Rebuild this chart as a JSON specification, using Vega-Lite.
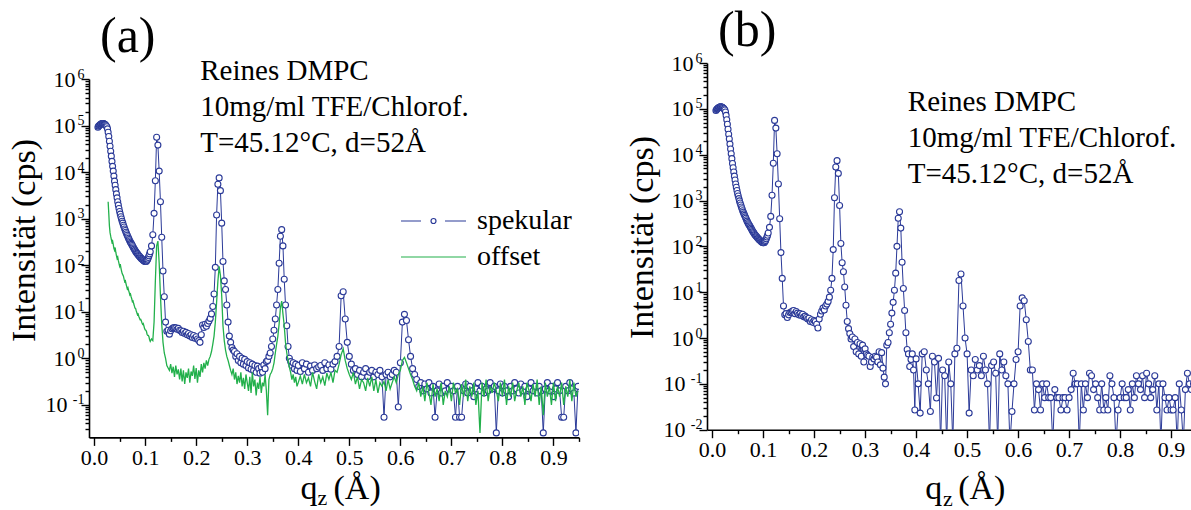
{
  "$schema": "https://vega.github.io/schema/vega-lite/v6.json",
  "padding": {"left": 7, "top": 6, "right": 0, "bottom": 0},
  "background": "white",
  "spacing": 45,
  "config": {
    "view": {"stroke": null},
    "font": "Liberation Serif",
    "axis": {"grid": false, "domainColor": "#000", "tickColor": "#000", "labelColor": "#000", "titleColor": "#000", "labelFont": "Liberation Serif", "titleFont": "Liberation Serif", "titleFontWeight": "normal", "domainWidth": 1.6, "tickWidth": 1.4, "labelFlush": false, "labelOverlap": false, "labelBound": false},
    "title": {"font": "Liberation Serif", "fontWeight": "normal", "fontSize": 50, "color": "#000", "anchor": "start", "frame": "group"}
  },
  "datasets": {
    "d": [
      {"q":0.0075,"a":92000,"b":92000},
      {"q":0.00875,"a":97000,"b":97000},
      {"q":0.01,"a":100000,"b":100000},
      {"q":0.01125,"a":103000,"b":103000},
      {"q":0.0125,"a":106000,"b":106000},
      {"q":0.01375,"a":108000,"b":108000},
      {"q":0.015,"a":110000,"b":110000},
      {"q":0.01625,"a":111000,"b":111000},
      {"q":0.0175,"a":111000,"b":111000},
      {"q":0.01875,"a":110000,"b":110000},
      {"q":0.02,"a":108000,"b":108000},
      {"q":0.02125,"a":106000,"b":106000},
      {"q":0.0225,"a":103000,"b":103000},
      {"q":0.02375,"a":99000,"b":99000},
      {"q":0.025,"a":94000,"b":94000},
      {"q":0.02625,"a":85000,"b":85000},
      {"q":0.0275,"a":72000,"o":2300,"b":72000},
      {"q":0.02875,"a":58000,"o":1300,"b":58000},
      {"q":0.03,"a":46000,"o":700,"b":46000},
      {"q":0.03125,"a":36000,"o":500,"b":36000},
      {"q":0.0325,"a":28000,"o":420,"b":28000},
      {"q":0.03375,"a":22000,"o":360,"b":22000},
      {"q":0.035,"a":17000,"o":310,"b":17000},
      {"q":0.03625,"a":13300,"o":330,"b":13300},
      {"q":0.0375,"a":10500,"o":280,"b":10500},
      {"q":0.03875,"a":8200,"o":230,"b":8200},
      {"q":0.04,"a":6400,"o":210,"b":6400},
      {"q":0.04125,"a":5200,"o":240,"b":5200},
      {"q":0.0425,"a":4200,"o":190,"b":4200},
      {"q":0.04375,"a":3400,"o":160,"b":3400},
      {"q":0.045,"a":2800,"o":140,"b":2800},
      {"q":0.04625,"a":2300,"o":150,"b":2300},
      {"q":0.0475,"a":1950,"o":125,"b":1950},
      {"q":0.04875,"a":1650,"o":110,"b":1650},
      {"q":0.05,"a":1420,"o":95,"b":1420},
      {"q":0.05125,"a":1250,"o":105,"b":1250},
      {"q":0.0525,"a":1100,"o":88,"b":1100},
      {"q":0.05375,"a":980,"o":75,"b":980},
      {"q":0.055,"a":880,"o":66,"b":880},
      {"q":0.05625,"a":800,"o":62,"b":800},
      {"q":0.0575,"a":720,"o":58,"b":720},
      {"q":0.05875,"a":660,"o":50,"b":660},
      {"q":0.06,"a":600,"o":44,"b":600},
      {"q":0.06125,"a":555,"o":46,"b":555},
      {"q":0.0625,"a":510,"o":40,"b":510},
      {"q":0.06375,"a":475,"o":35,"b":475},
      {"q":0.065,"a":440,"o":31,"b":440},
      {"q":0.06625,"a":410,"o":33,"b":410},
      {"q":0.0675,"a":380,"o":29,"b":380},
      {"q":0.06875,"a":355,"o":26,"b":355},
      {"q":0.07,"a":330,"o":23,"b":330},
      {"q":0.07125,"a":312,"o":24,"b":312},
      {"q":0.0725,"a":295,"o":21,"b":295},
      {"q":0.07375,"a":280,"o":19,"b":280},
      {"q":0.075,"a":265,"o":16.5,"b":265},
      {"q":0.07625,"a":250,"o":17,"b":250},
      {"q":0.0775,"a":235,"o":15,"b":235},
      {"q":0.07875,"a":222,"o":13.5,"b":222},
      {"q":0.08,"a":210,"o":12,"b":210},
      {"q":0.08125,"a":200,"o":11.8,"b":200},
      {"q":0.0825,"a":190,"o":10.5,"b":190},
      {"q":0.08375,"a":182,"o":9.5,"b":182},
      {"q":0.085,"a":175,"o":8.6,"b":175},
      {"q":0.08625,"a":168,"o":8.9,"b":168},
      {"q":0.0875,"a":162,"o":8,"b":162},
      {"q":0.08875,"a":156,"o":7.3,"b":156},
      {"q":0.09,"a":150,"o":6.8,"b":150},
      {"q":0.09125,"a":145,"o":6.9,"b":145},
      {"q":0.0925,"a":140,"o":6.4,"b":140},
      {"q":0.09375,"a":136,"o":5.8,"b":136},
      {"q":0.095,"a":132,"o":5.4,"b":132},
      {"q":0.09625,"a":128,"o":5.6,"b":128},
      {"q":0.0975,"a":125,"o":5,"b":125},
      {"q":0.09875,"a":122,"o":4.4,"b":122},
      {"q":0.1,"a":120,"o":4.1,"b":120},
      {"q":0.10125,"a":120,"o":4,"b":120},
      {"q":0.1025,"a":122,"o":3.8,"b":122},
      {"q":0.10375,"a":127,"o":3.3,"b":127},
      {"q":0.105,"a":135,"o":3.1,"b":135},
      {"q":0.10625,"a":146,"o":3.1,"b":146},
      {"q":0.1075,"a":160,"o":2.9,"b":160},
      {"q":0.10875,"a":175,"o":2.5,"b":175},
      {"q":0.11,"a":195,"o":2.3,"b":195},
      {"q":0.1125,"a":260,"o":2.6,"b":260},
      {"q":0.115,"a":450,"o":2.4,"b":450},
      {"q":0.1175,"a":1300,"o":6,"b":1300},
      {"q":0.12,"a":6500,"o":45,"b":6500},
      {"q":0.1225,"a":56000,"o":260,"b":56000},
      {"q":0.125,"a":38000,"o":330,"b":38000},
      {"q":0.1275,"a":10500,"o":110,"b":10500},
      {"q":0.13,"a":2300,"o":22,"b":2300},
      {"q":0.1325,"a":400,"o":5.5,"b":400},
      {"q":0.135,"a":75,"o":2.2,"b":73},
      {"q":0.1375,"a":21,"o":1.3,"b":20},
      {"q":0.14,"a":6,"o":1,"b":5},
      {"q":0.1425,"a":3.8,"o":0.7,"b":3.2},
      {"q":0.145,"a":4.0,"o":0.62,"b":3.4},
      {"q":0.1475,"a":3.3,"o":0.55,"b":2.8},
      {"q":0.15,"a":3.9,"o":0.75,"b":3.2},
      {"q":0.1525,"a":4.3,"o":0.48,"b":3.6},
      {"q":0.155,"a":4.5,"o":0.66,"b":3.7},
      {"q":0.1575,"a":4.6,"o":0.4,"b":3.9},
      {"q":0.16,"a":4.5,"o":0.7,"b":4.0},
      {"q":0.1625,"a":4.2,"o":0.45,"b":3.4},
      {"q":0.165,"a":4.4,"o":0.58,"b":3.8},
      {"q":0.1675,"a":4.0,"o":0.35,"b":3.5},
      {"q":0.17,"a":3.9,"o":0.6,"b":3.2},
      {"q":0.1725,"a":3.6,"o":0.32,"b":3.4},
      {"q":0.175,"a":3.8,"o":0.55,"b":3.1},
      {"q":0.1775,"a":3.4,"o":0.28,"b":3.3},
      {"q":0.18,"a":3.6,"o":0.5,"b":2.9},
      {"q":0.1825,"a":3.2,"o":0.38,"b":3.0},
      {"q":0.185,"a":3.4,"o":0.6,"b":2.8},
      {"q":0.1875,"a":3.0,"o":0.3,"b":2.6},
      {"q":0.19,"a":3.2,"o":0.52,"b":2.7},
      {"q":0.1925,"a":2.8,"o":0.42,"b":2.3},
      {"q":0.195,"a":3.1,"o":0.7,"b":2.5},
      {"q":0.1975,"a":2.7,"o":0.36,"b":2.2},
      {"q":0.2,"a":2.9,"o":0.62,"b":2.4},
      {"q":0.2025,"a":2.6,"o":0.3,"b":2.3},
      {"q":0.205,"a":2.4,"o":0.55,"b":2.0},
      {"q":0.2075,"a":2.2,"o":0.4,"b":1.65},
      {"q":0.21,"a":3.2,"o":0.75,"b":2.6},
      {"q":0.2125,"a":5.2,"o":0.5,"b":3.3},
      {"q":0.215,"a":4.6,"o":0.8,"b":3.9},
      {"q":0.2175,"a":5.4,"o":0.6,"b":4.5},
      {"q":0.22,"a":4.9,"o":0.9,"b":4.1},
      {"q":0.2225,"a":5.6,"o":0.7,"b":5.0},
      {"q":0.225,"a":6.3,"o":0.95,"b":5.5},
      {"q":0.2275,"a":7.2,"o":1.1,"b":6.3},
      {"q":0.23,"a":9.0,"o":1.4,"b":7.8},
      {"q":0.2325,"a":13,"o":2.0,"b":11},
      {"q":0.235,"a":24,"o":3.0,"b":20},
      {"q":0.2375,"a":90,"o":6,"b":85},
      {"q":0.24,"a":1200,"o":16,"b":1150},
      {"q":0.2425,"a":5500,"o":45,"b":5400},
      {"q":0.245,"a":7500,"o":95,"b":7400},
      {"q":0.2475,"a":4000,"o":60,"b":3900},
      {"q":0.25,"a":800,"o":22,"b":780},
      {"q":0.2525,"a":120,"o":5,"b":115},
      {"q":0.255,"a":46,"o":2.4,"b":44},
      {"q":0.2575,"a":30,"o":1.5,"b":28},
      {"q":0.26,"a":14,"o":1.1,"b":13},
      {"q":0.2625,"a":6,"o":0.9,"b":5.2},
      {"q":0.265,"a":3.0,"o":0.7,"b":2.3},
      {"q":0.2675,"a":2.2,"o":0.55,"b":1.6},
      {"q":0.27,"a":1.7,"o":0.45,"b":1.25},
      {"q":0.2725,"a":1.5,"o":0.6,"b":0.95},
      {"q":0.275,"a":1.4,"o":0.35,"b":1.05},
      {"q":0.2775,"a":1.1,"o":0.5,"b":0.65},
      {"q":0.28,"a":1.25,"o":0.28,"b":0.95},
      {"q":0.2825,"a":0.9,"o":0.42,"b":0.5},
      {"q":0.285,"a":1.1,"o":0.3,"b":0.8},
      {"q":0.2875,"a":0.8,"o":0.5,"b":0.45},
      {"q":0.29,"a":1.0,"o":0.25,"b":0.75},
      {"q":0.2925,"a":0.75,"o":0.38,"b":0.4},
      {"q":0.295,"a":0.95,"o":0.22,"b":0.7},
      {"q":0.2975,"a":0.7,"o":0.45,"b":0.3},
      {"q":0.3,"a":0.85,"o":0.3,"b":0.58},
      {"q":0.3025,"a":0.62,"o":0.2,"b":0.45},
      {"q":0.305,"a":0.8,"o":0.4,"b":0.42},
      {"q":0.3075,"a":0.58,"o":0.18,"b":0.4},
      {"q":0.31,"a":0.75,"o":0.5,"b":0.24},
      {"q":0.3125,"a":0.55,"o":0.25,"b":0.3},
      {"q":0.315,"a":0.7,"o":0.35,"b":0.38},
      {"q":0.3175,"a":0.5,"o":0.16,"b":0.35},
      {"q":0.32,"a":0.68,"o":0.3,"b":0.4},
      {"q":0.3225,"a":0.6,"o":0.22,"b":0.38},
      {"q":0.325,"a":0.48,"o":0.4,"b":0.3},
      {"q":0.3275,"a":0.65,"o":0.18,"b":0.5},
      {"q":0.33,"a":0.5,"o":0.3,"b":0.26},
      {"q":0.3325,"a":0.72,"o":0.25,"b":0.48},
      {"q":0.335,"a":0.6,"o":0.45,"b":0.22},
      {"q":0.3375,"a":0.85,"o":0.2,"b":0.14},
      {"q":0.34,"a":0.9,"o":0.06,"b":0.1},
      {"q":0.3425,"a":1.1,"o":0.35,"b":0.7},
      {"q":0.345,"a":1.3,"o":0.45,"b":0.8},
      {"q":0.3475,"a":1.8,"o":0.5,"b":1.3},
      {"q":0.35,"a":2.6,"o":0.6,"b":2.0},
      {"q":0.3525,"a":4,"o":0.8,"b":3.5},
      {"q":0.355,"a":7,"o":1.3,"b":6},
      {"q":0.3575,"a":14,"o":2.0,"b":11},
      {"q":0.36,"a":30,"o":3.0,"b":26},
      {"q":0.3625,"a":110,"o":5.5,"b":100},
      {"q":0.365,"a":420,"o":12,"b":410},
      {"q":0.3675,"a":580,"o":17,"b":570},
      {"q":0.37,"a":260,"o":9,"b":250},
      {"q":0.3725,"a":50,"o":5,"b":45},
      {"q":0.375,"a":14,"o":2.2,"b":12},
      {"q":0.3775,"a":5,"o":1.3,"b":4},
      {"q":0.38,"a":1.8,"o":0.9,"b":1.3},
      {"q":0.3825,"a":1.0,"o":0.65,"b":0.56},
      {"q":0.385,"a":0.85,"o":0.5,"b":0.45},
      {"q":0.3875,"a":0.7,"o":0.35,"b":0.24},
      {"q":0.39,"a":0.8,"o":0.45,"b":0.34},
      {"q":0.3925,"a":0.6,"o":0.3,"b":0.45},
      {"q":0.395,"a":0.75,"o":0.4,"b":0.2},
      {"q":0.3975,"a":0.55,"o":0.25,"b":0.027},
      {"q":0.4,"a":0.7,"o":0.3,"b":0.35},
      {"q":0.404,"a":0.52,"o":0.42,"b":0.1},
      {"q":0.408,"a":0.8,"o":0.28,"b":0.023},
      {"q":0.412,"a":0.6,"o":0.45,"b":0.45},
      {"q":0.416,"a":0.75,"o":0.3,"b":0.5},
      {"q":0.42,"a":0.5,"o":0.38,"b":0.2},
      {"q":0.424,"a":0.68,"o":0.25,"b":0.1},
      {"q":0.428,"a":0.55,"o":0.5,"b":0.025},
      {"q":0.432,"a":0.72,"o":0.32,"b":0.4},
      {"q":0.436,"a":0.6,"o":0.22,"b":0.3},
      {"q":0.44,"a":0.65,"o":0.45,"b":0.049},
      {"q":0.444,"a":0.7,"o":0.3,"b":0.36},
      {"q":0.448,"a":0.55,"o":0.4,"b":0.005},
      {"q":0.452,"a":0.8,"o":0.26,"b":0.2},
      {"q":0.456,"a":0.6,"o":0.48,"b":0.15},
      {"q":0.46,"a":0.72,"o":0.35,"b":0.005},
      {"q":0.464,"a":0.58,"o":0.5,"b":0.3},
      {"q":0.468,"a":0.75,"o":0.3,"b":0.1},
      {"q":0.472,"a":0.85,"o":0.55,"b":0.005},
      {"q":0.476,"a":1.1,"o":0.5,"b":0.45},
      {"q":0.48,"a":1.8,"o":0.75,"b":0.6},
      {"q":0.484,"a":22,"o":1.2,"b":18},
      {"q":0.488,"a":27,"o":1.6,"b":25},
      {"q":0.492,"a":7,"o":0.9,"b":5},
      {"q":0.496,"a":2.2,"o":0.6,"b":1.0},
      {"q":0.5,"a":1.1,"o":0.45,"b":0.45},
      {"q":0.504,"a":0.75,"o":0.35,"b":0.023},
      {"q":0.508,"a":0.55,"o":0.5,"b":0.2},
      {"q":0.512,"a":0.6,"o":0.28,"b":0.15},
      {"q":0.516,"a":0.45,"o":0.4,"b":0.34},
      {"q":0.52,"a":0.55,"o":0.22,"b":0.2},
      {"q":0.524,"a":0.4,"o":0.35,"b":0.25},
      {"q":0.528,"a":0.5,"o":0.3,"b":0.15},
      {"q":0.532,"a":0.6,"o":0.2,"b":0.4},
      {"q":0.536,"a":0.4,"o":0.38,"b":0.2},
      {"q":0.54,"a":0.5,"o":0.25,"b":0.1},
      {"q":0.544,"a":0.55,"o":0.4,"b":0.005},
      {"q":0.548,"a":0.4,"o":0.2,"b":0.25},
      {"q":0.552,"a":0.5,"o":0.35,"b":0.3},
      {"q":0.556,"a":0.45,"o":0.18,"b":0.17},
      {"q":0.56,"a":0.55,"o":0.3,"b":0.005},
      {"q":0.564,"a":0.4,"o":0.25,"b":0.45},
      {"q":0.568,"a":0.054,"o":0.32,"b":0.2},
      {"q":0.572,"a":0.45,"o":0.2,"b":0.3},
      {"q":0.576,"a":0.5,"o":0.35,"b":0.15},
      {"q":0.58,"a":0.4,"o":0.22,"b":0.1},
      {"q":0.584,"a":0.45,"o":0.3,"b":0.005},
      {"q":0.588,"a":0.55,"o":0.4,"b":0.025},
      {"q":0.592,"a":0.5,"o":0.3,"b":0.1},
      {"q":0.596,"a":0.09,"o":0.45,"b":0.34},
      {"q":0.6,"a":0.8,"o":0.55,"b":0.5},
      {"q":0.604,"a":6,"o":0.9,"b":5},
      {"q":0.608,"a":8.8,"o":1.05,"b":7.5},
      {"q":0.612,"a":6.5,"o":0.8,"b":6.5},
      {"q":0.616,"a":2.5,"o":0.6,"b":2.5},
      {"q":0.62,"a":1.1,"o":0.45,"b":0.84},
      {"q":0.624,"a":0.6,"o":0.35,"b":0.2},
      {"q":0.628,"a":0.45,"o":0.25,"b":0.2},
      {"q":0.632,"a":0.35,"o":0.2,"b":0.027},
      {"q":0.636,"a":0.25,"o":0.3,"b":0.1},
      {"q":0.64,"a":0.3,"o":0.15,"b":0.075},
      {"q":0.644,"a":0.2,"o":0.25,"b":0.027},
      {"q":0.648,"a":0.28,"o":0.12,"b":0.1},
      {"q":0.652,"a":0.22,"o":0.3,"b":0.05},
      {"q":0.656,"a":0.3,"o":0.18,"b":0.1},
      {"q":0.66,"a":0.18,"o":0.1,"b":0.05},
      {"q":0.664,"a":0.25,"o":0.28,"b":0.05},
      {"q":0.668,"a":0.054,"o":0.15,"b":0.005},
      {"q":0.672,"a":0.2,"o":0.22,"b":0.075},
      {"q":0.676,"a":0.28,"o":0.12,"b":0.05},
      {"q":0.68,"a":0.18,"o":0.3,"b":0.05},
      {"q":0.684,"a":0.25,"o":0.1,"b":0.027},
      {"q":0.688,"a":0.2,"o":0.2,"b":0.05},
      {"q":0.692,"a":0.3,"o":0.15,"b":0.05},
      {"q":0.696,"a":0.22,"o":0.25,"b":0.027},
      {"q":0.7,"a":0.25,"o":0.12,"b":0.05},
      {"q":0.704,"a":0.2,"o":0.3,"b":0.075},
      {"q":0.708,"a":0.054,"o":0.18,"b":0.17},
      {"q":0.712,"a":0.25,"o":0.22,"b":0.1},
      {"q":0.716,"a":0.054,"o":0.1,"b":0.1},
      {"q":0.72,"a":0.054,"o":0.28,"b":0.005},
      {"q":0.724,"a":0.2,"o":0.15,"b":0.1},
      {"q":0.728,"a":0.28,"o":0.35,"b":0.027},
      {"q":0.732,"a":0.18,"o":0.12,"b":0.1},
      {"q":0.736,"a":0.25,"o":0.25,"b":0.05},
      {"q":0.74,"a":0.2,"o":0.15,"b":0.17},
      {"q":0.744,"a":0.15,"o":0.3,"b":0.15},
      {"q":0.748,"a":0.22,"o":0.1,"b":0.075},
      {"q":0.752,"a":0.3,"o":0.2,"b":0.1},
      {"q":0.756,"a":0.2,"o":0.025,"b":0.05},
      {"q":0.76,"a":0.25,"o":0.3,"b":0.027},
      {"q":0.764,"a":0.18,"o":0.15,"b":0.1},
      {"q":0.768,"a":0.22,"o":0.35,"b":0.027},
      {"q":0.772,"a":0.2,"o":0.12,"b":0.05},
      {"q":0.776,"a":0.3,"o":0.25,"b":0.027},
      {"q":0.78,"a":0.22,"o":0.18,"b":0.15},
      {"q":0.784,"a":0.25,"o":0.3,"b":0.1},
      {"q":0.788,"a":0.025,"o":0.2,"b":0.05},
      {"q":0.792,"a":0.2,"o":0.12,"b":0.005},
      {"q":0.796,"a":0.28,"o":0.3,"b":0.027},
      {"q":0.8,"a":0.18,"o":0.15,"b":0.05},
      {"q":0.804,"a":0.25,"o":0.35,"b":0.1},
      {"q":0.808,"a":0.2,"o":0.1,"b":0.05},
      {"q":0.812,"a":0.15,"o":0.25,"b":0.05},
      {"q":0.816,"a":0.25,"o":0.15,"b":0.075},
      {"q":0.82,"a":0.2,"o":0.3,"b":0.027},
      {"q":0.824,"a":0.3,"o":0.12,"b":0.1},
      {"q":0.828,"a":0.22,"o":0.2,"b":0.05},
      {"q":0.832,"a":0.18,"o":0.3,"b":0.15},
      {"q":0.836,"a":0.28,"o":0.15,"b":0.1},
      {"q":0.84,"a":0.2,"o":0.25,"b":0.075},
      {"q":0.844,"a":0.25,"o":0.1,"b":0.15},
      {"q":0.848,"a":0.15,"o":0.3,"b":0.05},
      {"q":0.852,"a":0.22,"o":0.2,"b":0.17},
      {"q":0.856,"a":0.3,"o":0.12,"b":0.1},
      {"q":0.86,"a":0.2,"o":0.28,"b":0.05},
      {"q":0.864,"a":0.25,"o":0.15,"b":0.075},
      {"q":0.868,"a":0.18,"o":0.35,"b":0.15},
      {"q":0.872,"a":0.25,"o":0.1,"b":0.027},
      {"q":0.876,"a":0.2,"o":0.25,"b":0.1},
      {"q":0.88,"a":0.025,"o":0.06,"b":0.005},
      {"q":0.884,"a":0.22,"o":0.3,"b":0.1},
      {"q":0.888,"a":0.3,"o":0.15,"b":0.05},
      {"q":0.892,"a":0.2,"o":0.25,"b":0.027},
      {"q":0.896,"a":0.25,"o":0.1,"b":0.05},
      {"q":0.9,"a":0.15,"o":0.3,"b":0.027},
      {"q":0.904,"a":0.22,"o":0.12,"b":0.027},
      {"q":0.908,"a":0.3,"o":0.25,"b":0.05},
      {"q":0.912,"a":0.2,"o":0.15,"b":0.005},
      {"q":0.916,"a":0.054,"o":0.3,"b":0.1},
      {"q":0.92,"a":0.054,"o":0.1,"b":0.027},
      {"q":0.924,"a":0.25,"o":0.25,"b":0.005},
      {"q":0.928,"a":0.2,"o":0.15,"b":0.075},
      {"q":0.932,"a":0.3,"o":0.35,"b":0.17},
      {"q":0.936,"a":0.22,"o":0.12,"b":0.1},
      {"q":0.94,"a":0.18,"o":0.3,"b":0.075},
      {"q":0.944,"a":0.025,"o":0.15,"b":0.1},
      {"q":0.948,"a":0.25,"o":0.2,"b":0.15}
    ]
  },
  "hconcat": [
    {
      "width": 490,
      "height": 374.4,
      "title": {"text": "(a)", "dx": 11, "offset": -5},
      "data": {"name": "d"},
      "layer": [
        {
          "mark": {"type": "line", "strokeWidth": 1, "clip": true},
          "encoding": {
            "x": {"field": "q", "type": "quantitative", "scale": {"domain": [-0.01, 0.95], "nice": false, "zero": false},
              "axis": {"orient": "bottom", "values": [0.05,0.15,0.25,0.35,0.45,0.55,0.65,0.75,0.85,0.95], "labels": false, "tickSize": 4, "domain": false, "title": "z", "titleFontSize": 22, "titleX": 228, "titleY": 67, "titleAlign": "left", "titleBaseline": "alphabetic", "titleAngle": 0}},
            "y": {"field": "a", "type": "quantitative", "scale": {"type": "log", "domain": [0.02, 1000000], "range": [374.4, 16], "nice": false},
              "axis": {"orient": "left", "values": [0.03,0.04,0.05,0.06,0.07,0.08,0.09,0.2,0.3,0.4,0.5,0.6,0.7,0.8,0.9,2,3,4,5,6,7,8,9,20,30,40,50,60,70,80,90,200,300,400,500,600,700,800,900,2000,3000,4000,5000,6000,7000,8000,9000,20000,30000,40000,50000,60000,70000,80000,90000,200000,300000,400000,500000,600000,700000,800000,900000], "labels": false, "tickSize": 4, "domain": false, "title": null}},
            "color": {"datum": "spekular", "scale": {"domain": ["spekular", "offset"], "range": ["#2b3a98", "#22b04b"]},
              "legend": {"orient": "none", "legendX": 356, "legendY": 144, "title": null, "labelFont": "Liberation Serif", "labelFontSize": 28, "labelColor": "#000", "labelOffset": 4, "symbolSize": 400, "symbolStrokeWidth": 1.2, "rowPadding": 8,
                "encode": {"symbols": {"update": {"shape": {"signal": "datum.value === 'spekular' ? 'M-5.8,0H-3.8M-1.4,0H0.7M-2.3,0A0.25,0.25,0,1,1,-2.8,0A0.25,0.25,0,1,1,-2.3,0' : 'M-5.8,0H0.7'"}, "fill": {"value": "transparent"}}}}}}
          }
        },
        {
          "mark": {"type": "point", "shape": "circle", "size": 36, "filled": false, "fill": "white", "strokeWidth": 1.1, "opacity": 1, "clip": true},
          "encoding": {
            "x": {"field": "q", "type": "quantitative",
              "axis": {"orient": "bottom", "values": [], "ticks": false, "labels": false, "domain": false, "title": "(Å)", "titleFontSize": 34, "titleX": 244, "titleY": 61, "titleAlign": "left", "titleBaseline": "alphabetic", "titleAngle": 0}},
            "y": {"field": "a", "type": "quantitative",
              "axis": {"orient": "left", "values": [0.1,1,10,100,1000,10000,100000,1000000], "labelExpr": "'' + round(log(datum.value) / LN10)", "labelFontSize": 14, "labelPadding": 5, "labelOffset": -5, "ticks": false, "tickSize": 0, "domain": false, "title": null}},
            "color": {"datum": "spekular"}
          }
        },
        {
          "transform": [{"filter": "isValid(datum.o)"}],
          "mark": {"type": "line", "strokeWidth": 1.3, "clip": true},
          "encoding": {
            "x": {"field": "q", "type": "quantitative",
              "axis": {"orient": "bottom", "values": [0,0.1,0.2,0.3,0.4,0.5,0.6,0.7,0.8,0.9], "format": ".1f", "labelFontSize": 22, "labelPadding": 2, "tickSize": 8, "title": "q", "titleFontSize": 34, "titleX": 211, "titleY": 61, "titleAlign": "left", "titleBaseline": "alphabetic", "titleAngle": 0}},
            "y": {"field": "o", "type": "quantitative",
              "axis": {"orient": "left", "values": [0.1,1,10,100,1000,10000,100000,1000000], "labelExpr": "'10'", "labelFontSize": 22, "labelPadding": {"condition": {"test": "datum.value < 1", "value": 14}, "value": 6}, "labelBaseline": "middle", "tickSize": 8, "title": "Intensität (cps)", "titleFontSize": 34, "titleX": -55, "titleY": 177, "titleAlign": "center", "titleBaseline": "alphabetic", "titleAngle": -90}},
            "color": {"datum": "offset"}
          }
        },
        {
          "data": {"values": [{}]},
          "mark": {"type": "text", "align": "left", "baseline": "alphabetic", "fontSize": 29, "lineHeight": 36, "font": "Liberation Serif", "color": "#000"},
          "encoding": {
            "x": {"datum": 0.208, "type": "quantitative", "axis": null},
            "y": {"datum": 970000, "type": "quantitative", "axis": null},
            "text": {"value": ["Reines DMPC", "10mg/ml TFE/Chlorof.", "T=45.12°C, d=52Å"]}
          }
        }
      ],
      "resolve": {"axis": {"x": "independent", "y": "independent"}}
    },
    {
      "width": 489.6,
      "height": 366.7,
      "title": {"text": "(b)", "dx": 11, "offset": -5},
      "data": {"name": "d"},
      "layer": [
        {
          "mark": {"type": "line", "strokeWidth": 1, "clip": true, "color": "#2b3a98"},
          "encoding": {
            "x": {"field": "q", "type": "quantitative", "scale": {"domain": [-0.01, 0.95], "nice": false, "zero": false},
              "axis": {"orient": "bottom", "values": [0,0.1,0.2,0.3,0.4,0.5,0.6,0.7,0.8,0.9], "format": ".1f", "labelFontSize": 22, "labelPadding": 2, "tickSize": 8, "title": "q", "titleFontSize": 34, "titleX": 217.7, "titleY": 68.5, "titleAlign": "left", "titleBaseline": "alphabetic", "titleAngle": 0}},
            "y": {"field": "b", "type": "quantitative", "scale": {"type": "log", "domain": [0.01, 1000000], "nice": false},
              "axis": {"orient": "left", "values": [0.01,0.1,1,10,100,1000,10000,100000,1000000], "labelExpr": "'10'", "labelFontSize": 22, "labelPadding": {"condition": {"test": "datum.value < 1", "value": 14}, "value": 6}, "labelBaseline": "middle", "tickSize": 8, "title": "Intensität (cps)", "titleFontSize": 34, "titleX": -54.3, "titleY": 174, "titleAlign": "center", "titleBaseline": "alphabetic", "titleAngle": -90}}
          }
        },
        {
          "mark": {"type": "point", "shape": "circle", "size": 36, "filled": false, "fill": "white", "stroke": "#2b3a98", "strokeWidth": 1.1, "opacity": 1, "clip": true},
          "encoding": {
            "x": {"field": "q", "type": "quantitative",
              "axis": {"orient": "bottom", "values": [0.05,0.15,0.25,0.35,0.45,0.55,0.65,0.75,0.85,0.95], "labels": false, "tickSize": 4, "domain": false, "title": "z", "titleFontSize": 22, "titleX": 235.5, "titleY": 76, "titleAlign": "left", "titleBaseline": "alphabetic", "titleAngle": 0}},
            "y": {"field": "b", "type": "quantitative",
              "axis": {"orient": "left", "values": [0.02,0.03,0.04,0.05,0.06,0.07,0.08,0.09,0.2,0.3,0.4,0.5,0.6,0.7,0.8,0.9,2,3,4,5,6,7,8,9,20,30,40,50,60,70,80,90,200,300,400,500,600,700,800,900,2000,3000,4000,5000,6000,7000,8000,9000,20000,30000,40000,50000,60000,70000,80000,90000,200000,300000,400000,500000,600000,700000,800000,900000], "labels": false, "tickSize": 4, "domain": false, "title": null}}
          }
        },
        {
          "data": {"values": [{}]},
          "mark": {"type": "text", "align": "left", "baseline": "alphabetic", "fontSize": 29, "lineHeight": 36, "font": "Liberation Serif", "color": "#000"},
          "encoding": {
            "x": {"datum": 0.3837, "type": "quantitative",
              "axis": {"orient": "bottom", "values": [], "ticks": false, "labels": false, "domain": false, "title": "(Å)", "titleFontSize": 34, "titleX": 250.7, "titleY": 68.5, "titleAlign": "left", "titleBaseline": "alphabetic", "titleAngle": 0}},
            "y": {"datum": 88000, "type": "quantitative",
              "axis": {"orient": "left", "values": [0.01,0.1,1,10,100,1000,10000,100000,1000000], "labelExpr": "'' + round(log(datum.value) / LN10)", "labelFontSize": 14, "labelPadding": 5, "labelOffset": -5, "ticks": false, "tickSize": 0, "domain": false, "title": null}},
            "text": {"value": ["Reines DMPC", "10mg/ml TFE/Chlorof.", "T=45.12°C, d=52Å"]}
          }
        }
      ],
      "resolve": {"axis": {"x": "independent", "y": "independent"}}
    }
  ],
  "resolve": {"scale": {"color": "independent"}, "legend": {"color": "independent"}}
}
